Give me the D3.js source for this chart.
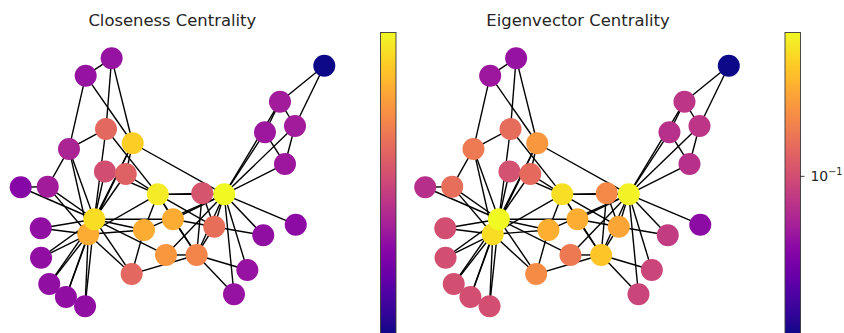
<!DOCTYPE html>
<html>
<head>
<meta charset="utf-8">
<script src="https://cdn.jsdelivr.net/npm/d3@7"></script>
<style>
  html, body { margin: 0; padding: 0; background: #fff; }
  svg { display: block; }
  text { font-family: "DejaVu Sans", sans-serif; fill: #262626; }
</style>
</head>
<body>
<svg id="chart" width="844" height="333"></svg>
<script>
// Zachary karate club: 34 members, layout coordinates in [-1, 1]
const layoutX = [0.341, 0.159, -0.097, 0.275, 0.741, 0.708, 0.807, 0.196, -0.188, -0.445,
                 0.609, 0.812, 0.598, 0.003, -0.868, -0.866, 1.000, 0.493, -0.812, -0.043,
                 -0.702, 0.405, -0.576, -0.682, -0.401, -0.572, -1.000, -0.438, -0.308, -0.822,
                 -0.269, -0.262, -0.555, -0.515];
const layoutY = [-0.097, -0.586, -0.097, -0.358, 0.148, 0.650, 0.454, -0.089, -0.385, 0.087,
                 0.403, -0.342, -0.427, -0.298, -0.371, -0.608, 0.940, -0.707, -0.820, -0.586,
                 -0.925, -0.903, -1.000, 0.269, 1.000, 0.860, -0.040, 0.430, 0.067, -0.035,
                 -0.740, 0.315, -0.419, -0.298];

// Friendship ties
const edges = [
  [0,1],[0,2],[0,3],[0,4],[0,5],[0,6],[0,7],[0,8],[0,10],[0,11],[0,12],[0,13],[0,17],[0,19],[0,21],[0,31],
  [1,2],[1,3],[1,7],[1,13],[1,17],[1,19],[1,21],[1,30],
  [2,3],[2,7],[2,8],[2,9],[2,13],[2,27],[2,28],[2,32],
  [3,7],[3,12],[3,13],
  [4,6],[4,10],
  [5,6],[5,10],[5,16],
  [6,16],
  [8,30],[8,32],[8,33],
  [9,33],
  [13,33],
  [14,32],[14,33],
  [15,32],[15,33],
  [18,32],[18,33],
  [19,33],
  [20,32],[20,33],
  [22,32],[22,33],
  [23,25],[23,27],[23,29],[23,32],[23,33],
  [24,25],[24,27],[24,31],
  [25,31],
  [26,29],[26,33],
  [27,33],
  [28,31],[28,33],
  [29,32],[29,33],
  [30,32],[30,33],
  [31,32],[31,33],
  [32,33]
];

const closeness = [0.569, 0.485, 0.559, 0.465, 0.379, 0.384, 0.384, 0.440, 0.516, 0.434,
                   0.379, 0.367, 0.371, 0.516, 0.371, 0.371, 0.2845, 0.375, 0.371, 0.500,
                   0.371, 0.375, 0.371, 0.393, 0.375, 0.375, 0.363, 0.458, 0.452, 0.384,
                   0.458, 0.541, 0.516, 0.550];

const eigenvector = [0.3555, 0.2660, 0.3172, 0.2112, 0.0760, 0.0795, 0.0795, 0.1710, 0.2274, 0.1027,
                     0.0760, 0.0529, 0.0843, 0.2265, 0.1014, 0.1014, 0.0236, 0.0924, 0.1014, 0.1479,
                     0.1014, 0.0924, 0.1014, 0.1501, 0.0570, 0.0592, 0.0756, 0.1335, 0.1311, 0.1350,
                     0.1748, 0.1910, 0.3087, 0.3734];

const titles = ["Closeness Centrality", "Eigenvector Centrality"];
const logTicks = [0.1];

const svg = d3.select("#chart");
const W = 844, H = 333;
svg.append("rect").attr("width", W).attr("height", H).attr("fill", "#fff");

const y = d3.scaleLinear().domain([-1, 1]).range([306.3, 58.3]);

// colorbar gradient (plasma, bottom → top)
const defs = svg.append("defs");
const grad = defs.append("linearGradient").attr("id", "plasma")
  .attr("x1", 0).attr("y1", 1).attr("x2", 0).attr("y2", 0);
d3.range(0, 1.0001, 0.02).forEach(t => {
  grad.append("stop").attr("offset", t).attr("stop-color", d3.interpolatePlasma(t));
});

const panels = [
  {
    title: titles[0],
    values: closeness,
    norm: d3.scaleLinear().domain(d3.extent(closeness)).range([0, 1]),
    xRange: [20.7, 324.3],
    titleX: 172.3,
    cbarX: 380.5,
    ticks: []
  },
  {
    title: titles[1],
    values: eigenvector,
    norm: d3.scaleLog().domain(d3.extent(eigenvector)).range([0, 1]),
    xRange: [425.2, 728.8],
    titleX: 578,
    cbarX: 785,
    ticks: logTicks
  }
];

const cbarTop = 32.5, cbarBottom = 334, cbarW = 15.5;

panels.forEach(p => {
  const x = d3.scaleLinear().domain([-1, 1]).range(p.xRange);
  const g = svg.append("g");

  g.append("text")
    .attr("x", p.titleX).attr("y", 25.5)
    .attr("text-anchor", "middle")
    .attr("font-size", "16.4px")
    .text(p.title);

  g.append("g").selectAll("line").data(edges).join("line")
    .attr("x1", d => x(layoutX[d[0]])).attr("y1", d => y(layoutY[d[0]]))
    .attr("x2", d => x(layoutX[d[1]])).attr("y2", d => y(layoutY[d[1]]))
    .attr("stroke", "#000").attr("stroke-width", 1.4);

  g.append("g").selectAll("circle").data(p.values).join("circle")
    .attr("cx", (d, i) => x(layoutX[i])).attr("cy", (d, i) => y(layoutY[i]))
    .attr("r", 11)
    .attr("fill", d => d3.interpolatePlasma(p.norm(d)));

  // colorbar
  g.append("rect")
    .attr("x", p.cbarX).attr("y", cbarTop)
    .attr("width", cbarW).attr("height", cbarBottom - cbarTop)
    .attr("fill", "url(#plasma)")
    .attr("stroke", "#3a3a3a").attr("stroke-width", 0.9);

  const cy = p.norm.copy().range([cbarBottom, cbarTop]);
  const tk = g.append("g").selectAll("g").data(p.ticks).join("g")
    .attr("transform", d => `translate(${p.cbarX + cbarW},${cy(d)})`);
  tk.append("line").attr("x1", 0).attr("x2", 4).attr("stroke", "#262626").attr("stroke-width", 0.9);
  const lbl = tk.append("text").attr("x", 10).attr("y", 5).attr("font-size", "13.9px");
  lbl.append("tspan").text(d => "10");
  lbl.append("tspan").attr("dy", -6).attr("font-size", "9.7px")
    .text(d => "\u2212" + Math.round(-Math.log10(d)));
});
</script>
</body>
</html>
